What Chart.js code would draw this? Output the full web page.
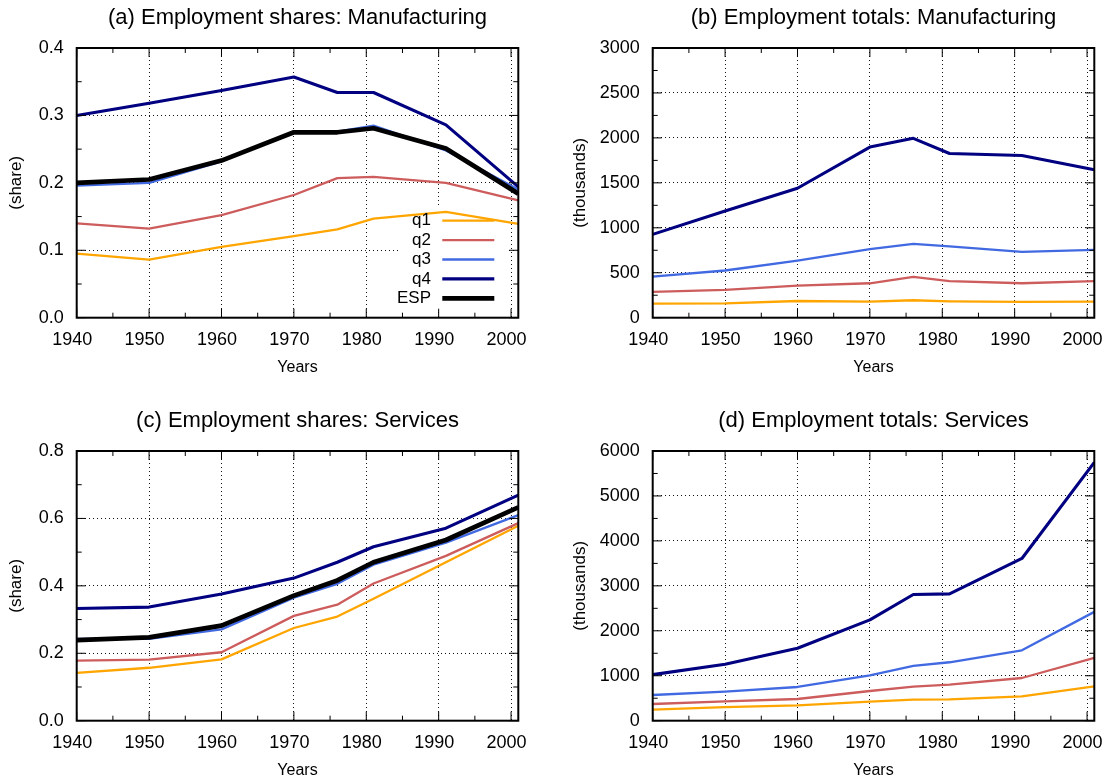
<!DOCTYPE html>
<html>
<head>
<meta charset="utf-8">
<title>Employment shares and totals</title>
<script src="https://cdn.jsdelivr.net/npm/chart.js@4.4.1/dist/chart.umd.min.js"></script>
<style>
  html, body { margin: 0; padding: 0; background: #fff; overflow: hidden; }
  #wrap { position: relative; width: 1109px; height: 782px; overflow: hidden; background: #fff; }
  #wrap canvas { position: absolute; }
</style>
</head>
<body>
<div id="wrap">
  <canvas id="chartA" width="554" height="391" style="left:0px;top:0px"></canvas>
  <canvas id="chartB" width="570" height="391" style="left:554px;top:0px"></canvas>
  <canvas id="chartC" width="554" height="391" style="left:0px;top:403px"></canvas>
  <canvas id="chartD" width="570" height="391" style="left:554px;top:403px"></canvas>
</div>
<script>
// --- data ---
const years = [1940, 1950, 1960, 1970, 1976, 1981, 1991, 2001];
const seriesNames = ['q1', 'q2', 'q3', 'q4', 'ESP'];

// (a) manufacturing shares
const manShareQ1 = [0.095, 0.086, 0.105, 0.121, 0.131, 0.147, 0.157, 0.139];
const manShareQ2 = [0.140, 0.132, 0.152, 0.182, 0.207, 0.209, 0.200, 0.174];
const manShareQ3 = [0.196, 0.200, 0.232, 0.275, 0.276, 0.285, 0.248, 0.190];
const manShareQ4 = [0.300, 0.318, 0.337, 0.357, 0.334, 0.334, 0.286, 0.194];
const manShareESP = [0.200, 0.205, 0.233, 0.275, 0.275, 0.281, 0.251, 0.184];

// (b) manufacturing totals (thousands)
const manTotQ1 = [156, 160, 186, 179, 194, 182, 175, 179];
const manTotQ2 = [287, 309, 357, 383, 454, 406, 383, 406];
const manTotQ3 = [458, 525, 636, 763, 822, 793, 733, 755];
const manTotQ4 = [927, 1187, 1440, 1898, 1995, 1827, 1805, 1645];

// (c) services shares
const serShareQ1 = [0.142, 0.157, 0.182, 0.275, 0.309, 0.362, 0.470, 0.578];
const serShareQ2 = [0.178, 0.181, 0.203, 0.311, 0.344, 0.407, 0.489, 0.586];
const serShareQ3 = [0.243, 0.243, 0.271, 0.365, 0.406, 0.463, 0.528, 0.610];
const serShareQ4 = [0.333, 0.337, 0.376, 0.423, 0.470, 0.516, 0.571, 0.669];
const serShareESP = [0.239, 0.247, 0.282, 0.371, 0.416, 0.470, 0.536, 0.633];

// (d) services totals (thousands)
const serTotQ1 = [245, 304, 342, 423, 468, 475, 542, 765];
const serTotQ2 = [371, 431, 483, 661, 757, 802, 950, 1396];
const serTotQ3 = [572, 646, 750, 1010, 1218, 1300, 1567, 2421];
const serTotQ4 = [1025, 1255, 1611, 2243, 2807, 2822, 3609, 5747];

// tick labels
const xTicks = [1940, 1950, 1960, 1970, 1980, 1990, 2000];
const yTicksManShare = [0, 0.1, 0.2, 0.3, 0.4];
const yTicksManTot = [0, 500, 1000, 1500, 2000, 2500, 3000];
const yTicksSerShare = [0, 0.2, 0.4, 0.6, 0.8];
const yTicksSerTot = [0, 1000, 2000, 3000, 4000, 5000, 6000];

// --- styling ---
const FONT = '"Liberation Sans", Arial, Helvetica, sans-serif';
const colors = { q1: '#FFA500', q2: '#CD5C5C', q3: '#4169E1', q4: '#000080', ESP: '#000000' };
const widths = { q1: 2.3, q2: 2.3, q3: 2.3, q4: 3.1, ESP: 4.7 };

const mids = arr => arr.slice(1).map((v, i) => (v + arr[i]) / 2);

// gnuplot-like frame: inward ticks on all four sides, solid border, optional key
const framePlugin = {
  id: 'frame',
  beforeDatasetsDraw(chart, args, o) {
    if (!o.key) return;
    const k = o.key;
    const ctx = chart.ctx;
    ctx.save();
    ctx.fillStyle = '#fff';
    ctx.fillRect(k.box[0], k.box[1], k.box[2], k.box[3]);
    ctx.restore();
  },
  afterDatasetsDraw(chart, args, o) {
    const { ctx, chartArea: a, scales: { x, y } } = chart;
    ctx.save();
    ctx.strokeStyle = '#000';
    ctx.lineWidth = 1;
    ctx.beginPath();
    const xt = (vals, len) => vals.forEach(v => {
      const p = x.getPixelForValue(v);
      if (p < a.left || p > a.right) return;
      ctx.moveTo(p, a.bottom); ctx.lineTo(p, a.bottom - len);
      ctx.moveTo(p, a.top); ctx.lineTo(p, a.top + len);
    });
    const yt = (vals, len) => vals.forEach(v => {
      const p = y.getPixelForValue(v);
      ctx.moveTo(a.left, p); ctx.lineTo(a.left + len, p);
      ctx.moveTo(a.right, p); ctx.lineTo(a.right - len, p);
    });
    xt(o.xMajor, 9); xt(mids(o.xMajor), 5);
    yt(o.yMajor, 9); yt(mids(o.yMajor), 5);
    ctx.stroke();

    ctx.lineWidth = 2;
    ctx.strokeRect(a.left, a.top, a.right - a.left, a.bottom - a.top);

    if (o.key) {
      const k = o.key;
      ctx.font = '17px ' + FONT;
      ctx.fillStyle = '#000';
      ctx.textAlign = 'right';
      ctx.textBaseline = 'middle';
      chart.data.datasets.forEach((ds, i) => {
        const yy = k.y0 + i * k.dy;
        ctx.fillText(ds.label, k.textRight, yy);
        ctx.strokeStyle = ds.borderColor;
        ctx.lineWidth = ds.borderWidth;
        ctx.beginPath();
        ctx.moveTo(k.lineX0, yy);
        ctx.lineTo(k.lineX1, yy);
        ctx.stroke();
      });
    }
    ctx.restore();
  }
};

function makeSeries(name, vals, i) {
  return {
    label: name,
    data: years.map((yr, j) => ({ x: yr, y: vals[j] })),
    borderColor: colors[name],
    backgroundColor: colors[name],
    borderWidth: widths[name],
    pointRadius: 0,
    tension: 0,
    fill: false,
    borderJoinStyle: 'round',
    order: 10 - i
  };
}

function makePanel(id, cfg) {
  const canvas = document.getElementById(id);
  const W = canvas.width, H = canvas.height;
  const datasets = cfg.series.map((vals, i) => makeSeries(seriesNames[i], vals, i));
  return new Chart(canvas, {
    type: 'line',
    data: { datasets },
    options: {
      responsive: false,
      animation: false,
      devicePixelRatio: 1,
      events: [],
      layout: { padding: { left: 0, right: W - cfg.area.right, top: 0, bottom: H - 377 } },
      plugins: {
        legend: { display: false },
        tooltip: { enabled: false },
        title: {
          display: true, text: cfg.title, fullSize: false, color: '#000',
          font: { family: FONT, size: 22, weight: 'normal' },
          padding: { top: 4.3, bottom: 17.3 }
        },
        frame: { xMajor: xTicks, yMajor: cfg.yTicks, key: cfg.key || null }
      },
      scales: {
        x: {
          type: 'linear', min: 1940, max: 2001,
          afterBuildTicks: s => { s.ticks = xTicks.map(v => ({ value: v })); },
          afterFit: s => { s.height = 59.3; },
          grid: { color: '#111', lineWidth: 1, drawTicks: false },
          border: { display: false, dash: [1, 3] },
          ticks: {
            color: '#000', font: { family: FONT, size: 18 }, padding: 12,
            labelOffset: -4.5, maxRotation: 0, autoSkip: false,
            callback: v => String(v)
          },
          title: { display: true, text: 'Years', color: '#000', font: { family: FONT, size: 16 }, padding: { top: 0, bottom: 0 } }
        },
        y: {
          type: 'linear', min: cfg.yTicks[0], max: cfg.yTicks[cfg.yTicks.length - 1],
          afterBuildTicks: s => { s.ticks = cfg.yTicks.map(v => ({ value: v })); },
          afterFit: s => { s.width = cfg.area.left; },
          grid: { color: '#111', lineWidth: 1, drawTicks: false },
          border: { display: false, dash: [1, 3] },
          ticks: {
            color: '#000', font: { family: FONT, size: 18 }, padding: 13, autoSkip: false,
            callback: v => cfg.fmt(v)
          },
          title: { display: true, text: cfg.yTitle, color: '#000', font: { family: FONT, size: 17 }, padding: { top: cfg.yTitlePad, bottom: 0 } }
        }
      }
    },
    plugins: [framePlugin]
  });
}

const shareFmt = v => Number(v).toFixed(1);
const totFmt = v => String(Math.round(v));

makePanel('chartA', {
  title: '(a) Employment shares: Manufacturing',
  series: [manShareQ1, manShareQ2, manShareQ3, manShareQ4, manShareESP],
  yTicks: yTicksManShare, fmt: shareFmt, yTitle: '(share)', yTitlePad: 6.5,
  area: { left: 76.7, right: 518.3 },
  key: { box: [400, 207, 106, 102], y0: 220.7, dy: 19.4, textRight: 431, lineX0: 442.3, lineX1: 494.3 }
});

makePanel('chartB', {
  title: '(b) Employment totals: Manufacturing',
  series: [manTotQ1, manTotQ2, manTotQ3, manTotQ4],
  yTicks: yTicksManTot, fmt: totFmt, yTitle: '(thousands)', yTitlePad: 16,
  area: { left: 98.7, right: 540.3 }
});

makePanel('chartC', {
  title: '(c) Employment shares: Services',
  series: [serShareQ1, serShareQ2, serShareQ3, serShareQ4, serShareESP],
  yTicks: yTicksSerShare, fmt: shareFmt, yTitle: '(share)', yTitlePad: 6.5,
  area: { left: 76.7, right: 518.3 }
});

makePanel('chartD', {
  title: '(d) Employment totals: Services',
  series: [serTotQ1, serTotQ2, serTotQ3, serTotQ4],
  yTicks: yTicksSerTot, fmt: totFmt, yTitle: '(thousands)', yTitlePad: 16,
  area: { left: 98.7, right: 540.3 }
});
</script>
</body>
</html>
